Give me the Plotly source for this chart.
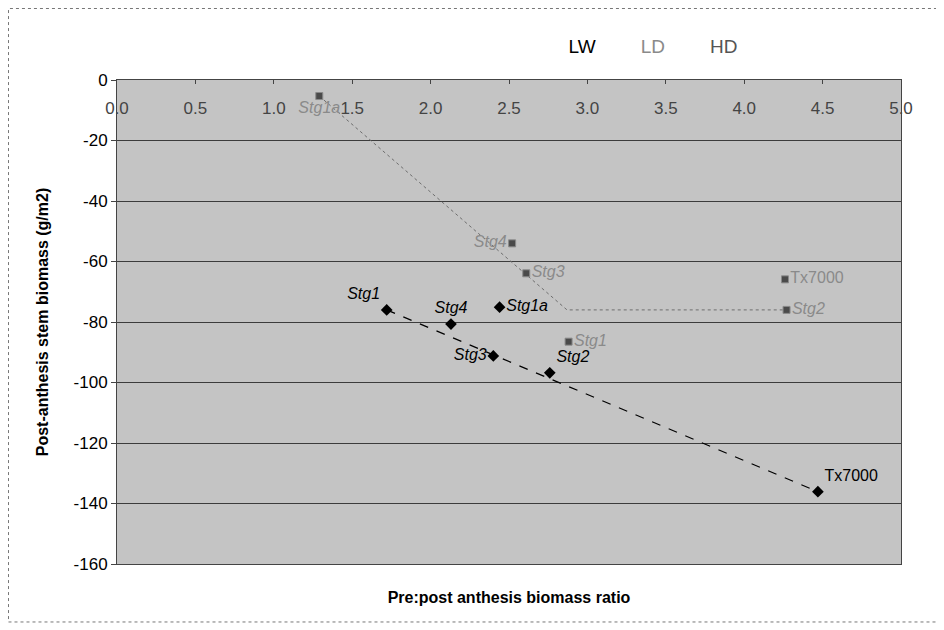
import plotly.graph_objects as go

# ---- data ----
lw_labels = ["Stg1", "Stg4", "Stg1a", "Stg3", "Stg2", "Tx7000"]
lw_x = [1.72, 2.13, 2.44, 2.40, 2.76, 4.47]
lw_y = [-76.0, -80.7, -75.1, -91.2, -96.8, -136.1]
lw_textpos = ["top left", "top center", "middle right", "middle left", "top right", "top right"]

ld_labels = ["Stg1a", "Stg4", "Stg3", "Stg1", "Tx7000", "Stg2"]
ld_x = [1.29, 2.52, 2.61, 2.88, 4.26, 4.27]
ld_y = [-5.3, -54.0, -63.9, -86.5, -65.9, -76.0]
ld_textpos = ["bottom center", "middle left", "middle right", "middle right", "middle right", "middle right"]

lw_line_x = [1.72, 4.47]
lw_line_y = [-76.0, -136.1]
ld_line_x = [1.29, 2.87, 4.27]
ld_line_y = [-5.3, -76.0, -76.0]

legend_names = ["LW", "LD", "HD"]
legend_colors = ["#000000", "#8a8a8a", "#555555"]

x_ticks = [0.0, 0.5, 1.0, 1.5, 2.0, 2.5, 3.0, 3.5, 4.0, 4.5, 5.0]
x_ticktext = ["0.0", "0.5", "1.0", "1.5", "2.0", "2.5", "3.0", "3.5", "4.0", "4.5", "5.0"]
y_ticks = [0, -20, -40, -60, -80, -100, -120, -140, -160]
y_ticktext = ["0", "-20", "-40", "-60", "-80", "-100", "-120", "-140", "-160"]

FONT = "Liberation Sans, Arial"


def fmt(lbl):
    return lbl if lbl.startswith("Tx") else "<i>" + lbl + "</i>"


fig = go.Figure()

fig.add_trace(go.Scatter(x=lw_line_x, y=lw_line_y, mode="lines",
                         line=dict(color="#000000", width=1.2, dash="dash"),
                         showlegend=False, hoverinfo="skip"))
fig.add_trace(go.Scatter(x=ld_line_x, y=ld_line_y, mode="lines",
                         line=dict(color="#6e6e6e", width=1, dash="dot"),
                         showlegend=False, hoverinfo="skip"))

fig.add_trace(go.Scatter(
    x=lw_x, y=lw_y, mode="markers+text",
    text=[fmt(l) for l in lw_labels], textposition=lw_textpos,
    textfont=dict(family=FONT, size=16, color="#000000"),
    marker=dict(symbol="diamond", size=9, color="#000000"),
    showlegend=False))

fig.add_trace(go.Scatter(
    x=ld_x, y=ld_y, mode="markers+text",
    text=[fmt(l) for l in ld_labels], textposition=ld_textpos,
    textfont=dict(family=FONT, size=16, color="#8a8a8a"),
    marker=dict(symbol="square", size=7, color="#4a4a4a",
                line=dict(color="#8a8a8a", width=1)),
    showlegend=False))

# invisible trace that carries the top (tick-label) x axis
fig.add_trace(go.Scatter(x=[None], y=[None], xaxis="x2", yaxis="y",
                         mode="markers", showlegend=False, hoverinfo="skip"))

# legend-only entries (text only, as in the reference)
for name, col in zip(legend_names, legend_colors):
    fig.add_trace(go.Scatter(x=[None], y=[None], mode="lines",
                             line=dict(width=0, color="rgba(0,0,0,0)"),
                             name=f"<span style='color:{col}'>{name}</span>"))

fig.update_layout(
    width=936, height=622,
    margin=dict(l=109, r=43, t=72, b=66, autoexpand=False),
    paper_bgcolor="white",
    plot_bgcolor="#c4c4c4",
    font=dict(family=FONT, size=17, color="#000000"),
    legend=dict(orientation="h", x=0.525, y=1.07, xanchor="left", yanchor="middle",
                bgcolor="rgba(0,0,0,0)", itemwidth=30,
                font=dict(size=19)),
    xaxis=dict(range=[0, 5], showticklabels=False, ticks="",
               showgrid=False, zeroline=False, automargin=False,
               showline=True, linecolor="#444", linewidth=1, mirror=True,
               title=dict(text="<b>Pre:post anthesis biomass ratio</b>",
                          font=dict(size=16), standoff=27)),
    xaxis2=dict(range=[0, 5], overlaying="x", side="top", anchor="y",
                tickvals=x_ticks, ticktext=x_ticktext,
                ticklabelposition="inside", ticklabelstandoff=19,
                ticklabeloverflow="allow",
                ticks="inside", ticklen=4, tickcolor="#444",
                showgrid=False, zeroline=False, automargin=False,
                showline=False),
    yaxis=dict(range=[-160, 0], tickvals=y_ticks, ticktext=y_ticktext,
               ticks="outside", ticklen=5, tickcolor="#444",
               showgrid=True, gridcolor="#3c3c3c", gridwidth=1,
               zeroline=False, automargin=False,
               showline=True, linecolor="#444", linewidth=1, mirror=True,
               title=dict(text="<b>Post-anthesis stem biomass (g/m2)</b>",
                          font=dict(size=16), standoff=20)),
)

# outer chart frame
fig.add_shape(type="rect", xref="paper", yref="paper",
              x0=-0.1384, x1=1.0459, y0=-0.1198, y1=1.1477,
              line=dict(color="#777", width=1, dash="dot"), layer="below")

fig.write_html("out.html")
